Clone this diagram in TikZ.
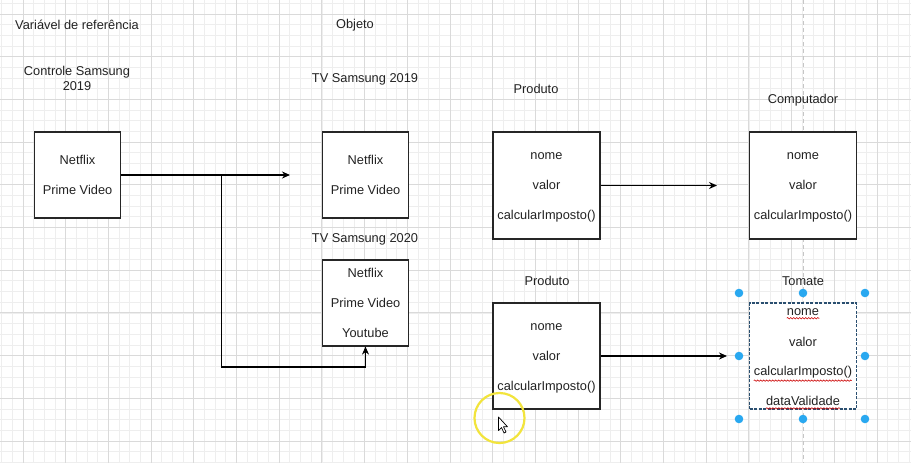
\documentclass[tikz,border=0pt]{standalone}
\usepackage{fontspec}
\setmainfont{Liberation Sans}
\usetikzlibrary{arrows.meta,decorations.pathmorphing}
\definecolor{gmajor}{HTML}{DADADA}
\definecolor{gminor}{HTML}{EEEEEE}
\definecolor{txt}{HTML}{222222}
\definecolor{handle}{HTML}{29A8F0}
\definecolor{selb}{HTML}{2A4F70}
\definecolor{hilite}{HTML}{F2E43C}
\tikzset{
  minorline/.style={draw=gminor, line width=0.8pt},
  majorline/.style={draw=gmajor, line width=1pt},
  guide/.style={draw=gray!45, line width=0.8pt, dash pattern=on 4pt off 3pt},
  boxnode/.style={draw=black!85, line width=1.2pt, fill=white, inner sep=0pt, align=center,
    text=txt, font=\fontsize{12.8}{30}\selectfont},
  lbl/.style={inner sep=0pt, align=center, text=txt, font=\fontsize{12.8}{15}\selectfont},
  boxtext/.style={inner sep=0pt, align=center, text=txt, font=\fontsize{12.8}{30}\selectfont},
  arr/.style={draw=black, line width=1.2pt, -{Stealth[length=8pt,width=7pt]}},
  handledot/.style={circle, fill=handle, minimum size=8.6pt, inner sep=0pt},
  squig/.style={draw=red!80!black, line width=0.6pt, decorate,
    decoration={snake, amplitude=0.7pt, segment length=3pt}},
}
\begin{document}
\begin{tikzpicture}[x=1pt,y=-1pt]
\useasboundingbox (0,0) rectangle (911,463);
\fill[white] (0,0) rectangle (911,463);
% grid
\foreach \k in {-2,...,83} \draw[minorline] ({23+10.675*\k},0) -- ({23+10.675*\k},463);
\foreach \k in {-1,...,43} \draw[minorline] (0,{14+10.675*\k}) -- (911,{14+10.675*\k});
\foreach \k in {0,...,21} \draw[majorline] ({23+42.7*\k},0) -- ({23+42.7*\k},463);
\foreach \k in {0,...,11} \draw[majorline] (0,{14+42.7*\k}) -- (911,{14+42.7*\k});
% guide line
\draw[guide] (803,0) -- (803,463);

% titles
\node[lbl] (tvar) at (77,25) {Variável de referência};
\node[lbl] (tobj) at (355,25) {Objeto};
\node[lbl] (tctrl) at (77,78.5) {Controle Samsung\\2019};
\node[lbl] (ttv19) at (365,79) {TV Samsung 2019};
\node[lbl] (ttv20) at (365,239) {TV Samsung 2020};
\node[lbl] (tprod1) at (536,89) {Produto};
\node[lbl] (tcomp) at (803,100) {Computador};
\node[lbl] (tprod2) at (547,281) {Produto};
\node[lbl] (ttom) at (803,281) {Tomate};

% boxes
\node[boxnode, minimum width=85.5pt, minimum height=86pt] (ctrl) at (77.5,175) {Netflix\\Prime Video};
\node[boxnode, minimum width=85.5pt, minimum height=86pt] (tv19) at (365.5,175) {Netflix\\Prime Video};
\node[boxnode, minimum width=85.5pt, minimum height=86pt] (tv20) at (365.5,303) {Netflix\\Prime Video\\Youtube};
\node[boxnode, minimum width=107pt, minimum height=107pt] (prod1) at (546.5,185.5) {};
\node[boxtext] (prod1t) at (546.5,187.5) {nome\\valor\\calcularImposto()};
\node[boxnode, minimum width=107pt, minimum height=107pt] (comp) at (803,185.5) {};
\node[boxtext] (compt) at (803,187.5) {nome\\valor\\calcularImposto()};
\node[boxnode, minimum width=107pt, minimum height=106pt] (prod2) at (546.5,356) {};
\node[boxtext] (prod2t) at (546.5,358) {nome\\valor\\calcularImposto()};
\node[boxnode, draw=selb, dash pattern=on 3pt off 1.5pt, line width=1.1pt, minimum width=107pt, minimum height=106pt] (tom) at (803,356) {};
\node[lbl] (tn) at (803,312) {nome};
\node[lbl] (tv) at (803,342) {valor};
\node[lbl] (tc) at (803,372) {calcularImposto()};
\node[lbl] (td) at (803,401) {dataValidade};
\draw[squig] (tn.south west) ++(0,2.5) -- ++(32.5,0);
\draw[squig] (tc.south west) ++(0,2.5) -- ++(98,0);
\draw[squig] (td.south west) ++(0,2.5) -- ++(74,0);

% connectors
\coordinate (tip1) at (290,175);
\coordinate (branch) at (221.5,175);
\coordinate (bend) at (221.5,367);
\draw[arr] (ctrl.east) -- (tip1);
\draw[arr] (branch) -- (bend) -| (tv20.south);
\coordinate (tip2) at (717,185.5);
\draw[arr] (prod1.east) -- (tip2);
\coordinate (tip3) at (727,356);
\draw[arr] (prod2.east) -- (tip3);

% selection handles
\node[handledot] (h1) at (739,293) {};
\node[handledot] (h2) at (803,293) {};
\node[handledot] (h3) at (865,293) {};
\node[handledot] (h4) at (739,356) {};
\node[handledot] (h5) at (865,356) {};
\node[handledot] (h6) at (739,419) {};
\node[handledot] (h7) at (803,419) {};
\node[handledot] (h8) at (865,419) {};

% cursor highlight and pointer
\draw[hilite, line width=2.2pt] (499.5,418) circle (25pt);
\draw[black, fill=white, line width=0.7pt, line join=round]
  (498.5,417) -- (498.5,430.5) -- (501.5,427.5) -- (504,433) -- (506,432) -- (503.5,426.8) -- (507.5,426.8) -- cycle;
\end{tikzpicture}
\end{document}
